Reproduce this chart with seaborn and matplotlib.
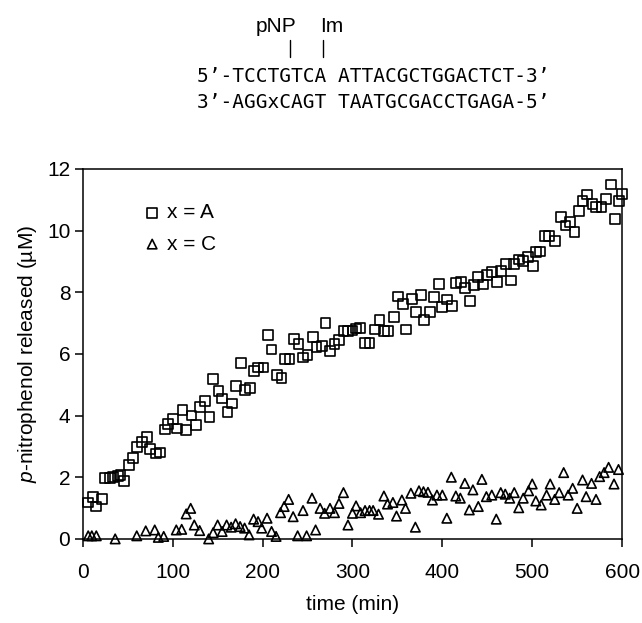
import numpy as np
import pandas as pd
import seaborn as sns
import matplotlib.pyplot as plt
from matplotlib.lines import Line2D

# x = A (squares)
time_a = [6, 11, 15, 21, 25, 30, 34, 39, 42, 46, 51, 56, 60, 66, 71, 75, 81, 86,
          91, 95, 100, 105, 111, 115, 121, 126, 130, 136, 141, 145, 151, 155, 161,
          166, 170, 176, 180, 186, 190, 195, 201, 206, 210, 216, 221, 225, 230, 235,
          240, 245, 250, 256, 260, 266, 270, 275, 280, 285, 290, 295, 300, 304, 308,
          314, 319, 325, 330, 335, 340, 346, 351, 356, 360, 366, 371, 376, 380, 386,
          391, 396, 400, 405, 411, 415, 421, 425, 431, 435, 440, 445, 450, 455, 461,
          465, 471, 476, 480, 485, 490, 495, 501, 504, 509, 514, 519, 525, 532, 537,
          542, 547, 552, 556, 561, 567, 571, 577, 582, 588, 592, 597, 600]
conc_a = [1.18, 1.35, 1.05, 1.30, 1.98, 1.98, 2.00, 2.05, 2.07, 1.88, 2.40, 2.63,
          2.98, 3.15, 3.30, 2.92, 2.77, 2.80, 3.55, 3.72, 3.90, 3.58, 4.17, 3.53,
          4.00, 3.69, 4.28, 4.48, 3.96, 5.18, 4.79, 4.55, 4.12, 4.39, 4.96, 5.71,
          4.84, 4.88, 5.45, 5.56, 5.56, 6.60, 6.14, 5.32, 5.22, 5.83, 5.83, 6.48,
          6.31, 5.88, 5.95, 6.55, 6.22, 6.26, 7.00, 6.10, 6.33, 6.44, 6.74, 6.74,
          6.76, 6.82, 6.85, 6.35, 6.35, 6.79, 7.10, 6.74, 6.74, 7.20, 7.86, 7.63,
          6.79, 7.79, 7.36, 7.92, 7.10, 7.36, 7.84, 8.27, 7.52, 7.76, 7.54, 8.30,
          8.33, 8.14, 7.71, 8.22, 8.49, 8.25, 8.57, 8.65, 8.33, 8.68, 8.92, 8.38,
          8.92, 9.06, 9.00, 9.14, 8.85, 9.30, 9.32, 9.81, 9.81, 9.66, 10.43, 10.16,
          10.27, 9.95, 10.63, 10.97, 11.17, 10.86, 10.76, 10.76, 11.03, 11.49,
          10.38, 10.95, 11.19]

# x = C (triangles)
time_c = [6, 10, 15, 36, 60, 70, 80, 84, 90, 104, 110, 115, 120, 124, 130, 140,
          145, 150, 155, 160, 165, 170, 175, 180, 185, 190, 195, 199, 205, 210, 215,
          220, 224, 229, 234, 239, 245, 249, 255, 259, 264, 269, 275, 280, 285, 290,
          295, 300, 304, 309, 314, 319, 323, 329, 335, 339, 345, 349, 355, 359, 365,
          370, 374, 379, 384, 389, 394, 400, 405, 410, 415, 420, 425, 430, 434, 440,
          444, 449, 455, 460, 465, 470, 475, 480, 485, 490, 496, 500, 504, 510, 516,
          520, 525, 530, 535, 540, 545, 550, 556, 560, 566, 571, 575, 580, 585, 591,
          596]
conc_c = [0.10, 0.10, 0.10, 0.00, 0.10, 0.26, 0.29, 0.05, 0.08, 0.29, 0.31, 0.81,
          0.99, 0.45, 0.27, 0.00, 0.20, 0.45, 0.24, 0.45, 0.38, 0.49, 0.40, 0.35,
          0.13, 0.64, 0.56, 0.35, 0.67, 0.24, 0.08, 0.85, 1.05, 1.28, 0.72, 0.10,
          0.92, 0.10, 1.32, 0.29, 0.99, 0.83, 0.99, 0.85, 1.15, 1.50, 0.45, 0.83,
          1.07, 0.85, 0.92, 0.92, 0.92, 0.80, 1.39, 1.13, 1.18, 0.74, 1.26, 0.99,
          1.48, 0.38, 1.56, 1.53, 1.51, 1.26, 1.42, 1.42, 0.67, 2.00, 1.39, 1.32,
          1.80, 0.94, 1.59, 1.05, 1.93, 1.37, 1.42, 0.64, 1.50, 1.45, 1.32, 1.50,
          1.01, 1.32, 1.56, 1.78, 1.23, 1.10, 1.42, 1.78, 1.28, 1.50, 2.15, 1.42,
          1.64, 0.99, 1.91, 1.37, 1.80, 1.28, 2.02, 2.15, 2.32, 1.78, 2.25]

x_ticks = [0, 100, 200, 300, 400, 500, 600]
y_ticks = [0, 2, 4, 6, 8, 10, 12]

sns.set_style("ticks")
plt.rcParams["font.family"] = ["Liberation Sans", "DejaVu Sans"]
plt.rcParams["mathtext.fontset"] = "custom"
plt.rcParams["mathtext.rm"] = "Liberation Sans"
plt.rcParams["mathtext.it"] = "Liberation Sans:italic"
for key in ("text.color", "axes.labelcolor", "xtick.color", "ytick.color",
            "axes.edgecolor"):
    plt.rcParams[key] = "black"

fig = plt.figure(figsize=(6.42, 6.23), dpi=100)
ax = fig.add_axes([0.129, 0.135, 0.840, 0.594])

df_a = pd.DataFrame({"time": time_a, "conc": conc_a})
df_c = pd.DataFrame({"time": time_c, "conc": conc_c})

sns.scatterplot(data=df_a, x="time", y="conc", marker="s", s=50,
                facecolor="none", edgecolor="black", linewidth=1.2,
                label="x = A", ax=ax, zorder=3, clip_on=False)
sns.scatterplot(data=df_c, x="time", y="conc", marker="^", s=46,
                facecolor="none", edgecolor="black", linewidth=1.2,
                label="x = C", ax=ax, zorder=3, clip_on=False)

ax.set_xlim(0, 600)
ax.set_ylim(0, 12)
ax.set_xticks(x_ticks)
ax.set_yticks(y_ticks)
ax.tick_params(axis="both", direction="out", length=6, width=1.1,
               labelsize=15, color="black", labelcolor="black")
ax.tick_params(axis="x", pad=11)
ax.tick_params(axis="y", pad=3)
for sp in ax.spines.values():
    sp.set_linewidth(1.1)
    sp.set_color("black")

ax.set_xlabel("time (min)", fontsize=15, labelpad=10)
ax.set_ylabel(r"$\it{p}$-nitrophenol released (µM)", fontsize=15, labelpad=6)

leg = ax.legend(loc="upper left", bbox_to_anchor=(0.09, 0.93), frameon=False,
                fontsize=15, handletextpad=0.1, labelspacing=0.6,
                borderaxespad=0, handlelength=1.2)

# sequence header
mono = "DejaVu Sans Mono"
fig.text(0.307, 0.878, "5’-TCCTGTCA ATTACGCTGGACTCT-3’", family=mono,
         fontsize=14, va="center", ha="left")
fig.text(0.307, 0.836, "3’-AGGxCAGT TAATGCGACCTGAGA-5’", family=mono,
         fontsize=14, va="center", ha="left")
fig.text(0.430, 0.958, "pNP", fontsize=15, ha="center", va="center")
fig.text(0.517, 0.958, "Im", fontsize=15, ha="center", va="center")
for xf in (0.452, 0.503):
    fig.add_artist(Line2D([xf, xf], [0.909, 0.936], color="black", lw=1.0))

fig.savefig("out.png", dpi=100)
